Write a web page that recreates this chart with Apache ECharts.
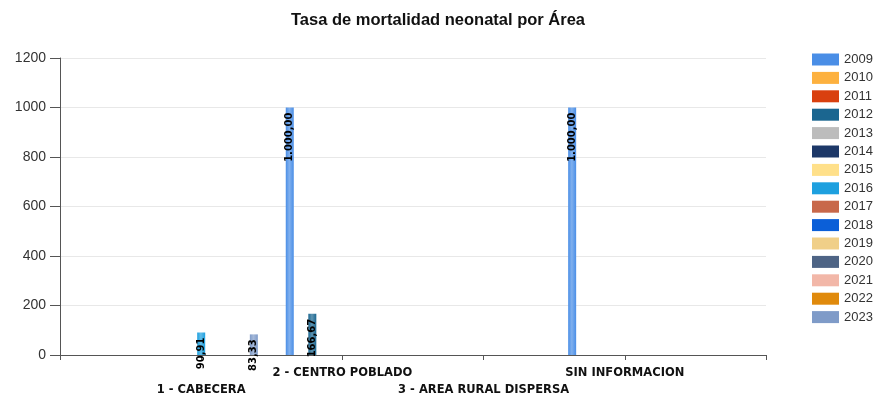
<!DOCTYPE html>
<html>
<head>
<meta charset="utf-8">
<script src="https://cdn.jsdelivr.net/npm/echarts@6/dist/echarts.min.js"></script>
<style>
  html, body { margin: 0; padding: 0; background: #fff; }
  #main { width: 876px; height: 394px; }
</style>
</head>
<body>
<div id="main"></div>
<script>
// categorias del eje x
const areas = ['1 - CABECERA', '2 - CENTRO POBLADO', '3 - AREA RURAL DISPERSA', 'SIN INFORMACION'];
const years = ['2009', '2010', '2011', '2012', '2013', '2014', '2015', '2016',
  '2017', '2018', '2019', '2020', '2021', '2022', '2023'];
const colors = ['#4a8ee6', '#fdb13f', '#d9400f', '#1b6690', '#bcbcbc', '#1d3868', '#ffe08a', '#1ea0df',
  '#c8684a', '#0b5fd8', '#f0cf88', '#4e6485', '#f2b7a8', '#e08a0c', '#7f9bc8'];

// valores por año (una posicion por area)
const v2009 = [null, 1000, null, 1000];
const v2010 = [null, null, null, null];
const v2011 = [null, null, null, null];
const v2012 = [null, 166.67, null, null];
const v2013 = [null, null, null, null];
const v2014 = [null, null, null, null];
const v2015 = [null, null, null, null];
const v2016 = [90.91, null, null, null];
const v2017 = [null, null, null, null];
const v2018 = [null, null, null, null];
const v2019 = [null, null, null, null];
const v2020 = [null, null, null, null];
const v2021 = [null, null, null, null];
const v2022 = [null, null, null, null];
const v2023 = [83.33, null, null, null];
const values = [v2009, v2010, v2011, v2012, v2013, v2014, v2015, v2016,
  v2017, v2018, v2019, v2020, v2021, v2022, v2023];

function lighten(hex, k) {
  const n = parseInt(hex.slice(1), 16);
  const r = n >> 16, g = (n >> 8) & 255, b = n & 255;
  const f = c => Math.round(c + (255 - c) * k);
  return 'rgb(' + f(r) + ',' + f(g) + ',' + f(b) + ')';
}

function fmt(v) {
  const parts = v.toFixed(2).split('.');
  return parts[0].replace(/\B(?=(\d{3})+(?!\d))/g, '.') + ',' + parts[1];
}

const chart = echarts.init(document.getElementById('main'));

const series = years.map((y, i) => ({
  name: y,
  type: 'bar',
  barWidth: 8,
  barGap: '-6%',
  data: [null].concat(values[i], [null]),
  itemStyle: {
    color: new echarts.graphic.LinearGradient(0, 0, 1, 0, [
      { offset: 0, color: colors[i] },
      { offset: 0.45, color: lighten(colors[i], 0.3) },
      { offset: 1, color: colors[i] }
    ])
  },
  label: {
    show: true,
    position: 'insideTop',
    distance: 5,
    rotate: 90,
    align: 'right',
    verticalAlign: 'middle',
    color: '#000',
    fontWeight: 'bold',
    fontSize: 10,
    fontFamily: 'DejaVu Sans',
    formatter: p => fmt(p.value)
  }
}));

const option = {
  animation: false,
  title: {
    text: 'Tasa de mortalidad neonatal por Área',
    left: 'center',
    top: 7,
    textStyle: { fontSize: 16.5, fontWeight: 'bold', color: '#111', fontFamily: 'Liberation Sans' }
  },
  legend: {
    orient: 'vertical',
    left: 807,
    top: 48,
    itemWidth: 27,
    itemHeight: 12,
    itemGap: 5.4,
    icon: 'rect',
    textStyle: { fontSize: 13, color: '#333', fontFamily: 'Liberation Sans' },
    data: years.map((y, i) => ({ name: y, itemStyle: { color: colors[i] } }))
  },
  grid: { left: 60, right: 110, top: 58, bottom: 39, outerBoundsMode: 'none' },
  xAxis: {
    type: 'category',
    boundaryGap: false,
    data: [''].concat(areas, ['']),
    axisLine: { lineStyle: { color: '#555', width: 1 } },
    axisTick: { show: true, length: 5, lineStyle: { color: '#555' } },
    axisLabel: {
      interval: 0,
      hideOverlap: false,
      margin: 10,
      color: '#111',
      fontWeight: 'bold',
      fontSize: 11.5,
      fontFamily: 'DejaVu Sans',
      lineHeight: 17,
      formatter: (val, idx) => (idx % 2 === 1 ? '\n' + val : val)
    }
  },
  yAxis: {
    type: 'value',
    min: 0,
    max: 1200,
    interval: 200,
    axisLine: { show: true, lineStyle: { color: '#555' } },
    axisTick: { show: true, length: 10, lineStyle: { color: '#555' } },
    axisLabel: { color: '#333', fontSize: 14, fontFamily: 'Liberation Sans', margin: 14, formatter: v => String(v) },
    splitLine: { lineStyle: { color: '#e8e8e8' } }
  },
  series: series
};

chart.setOption(option);
</script>
</body>
</html>
